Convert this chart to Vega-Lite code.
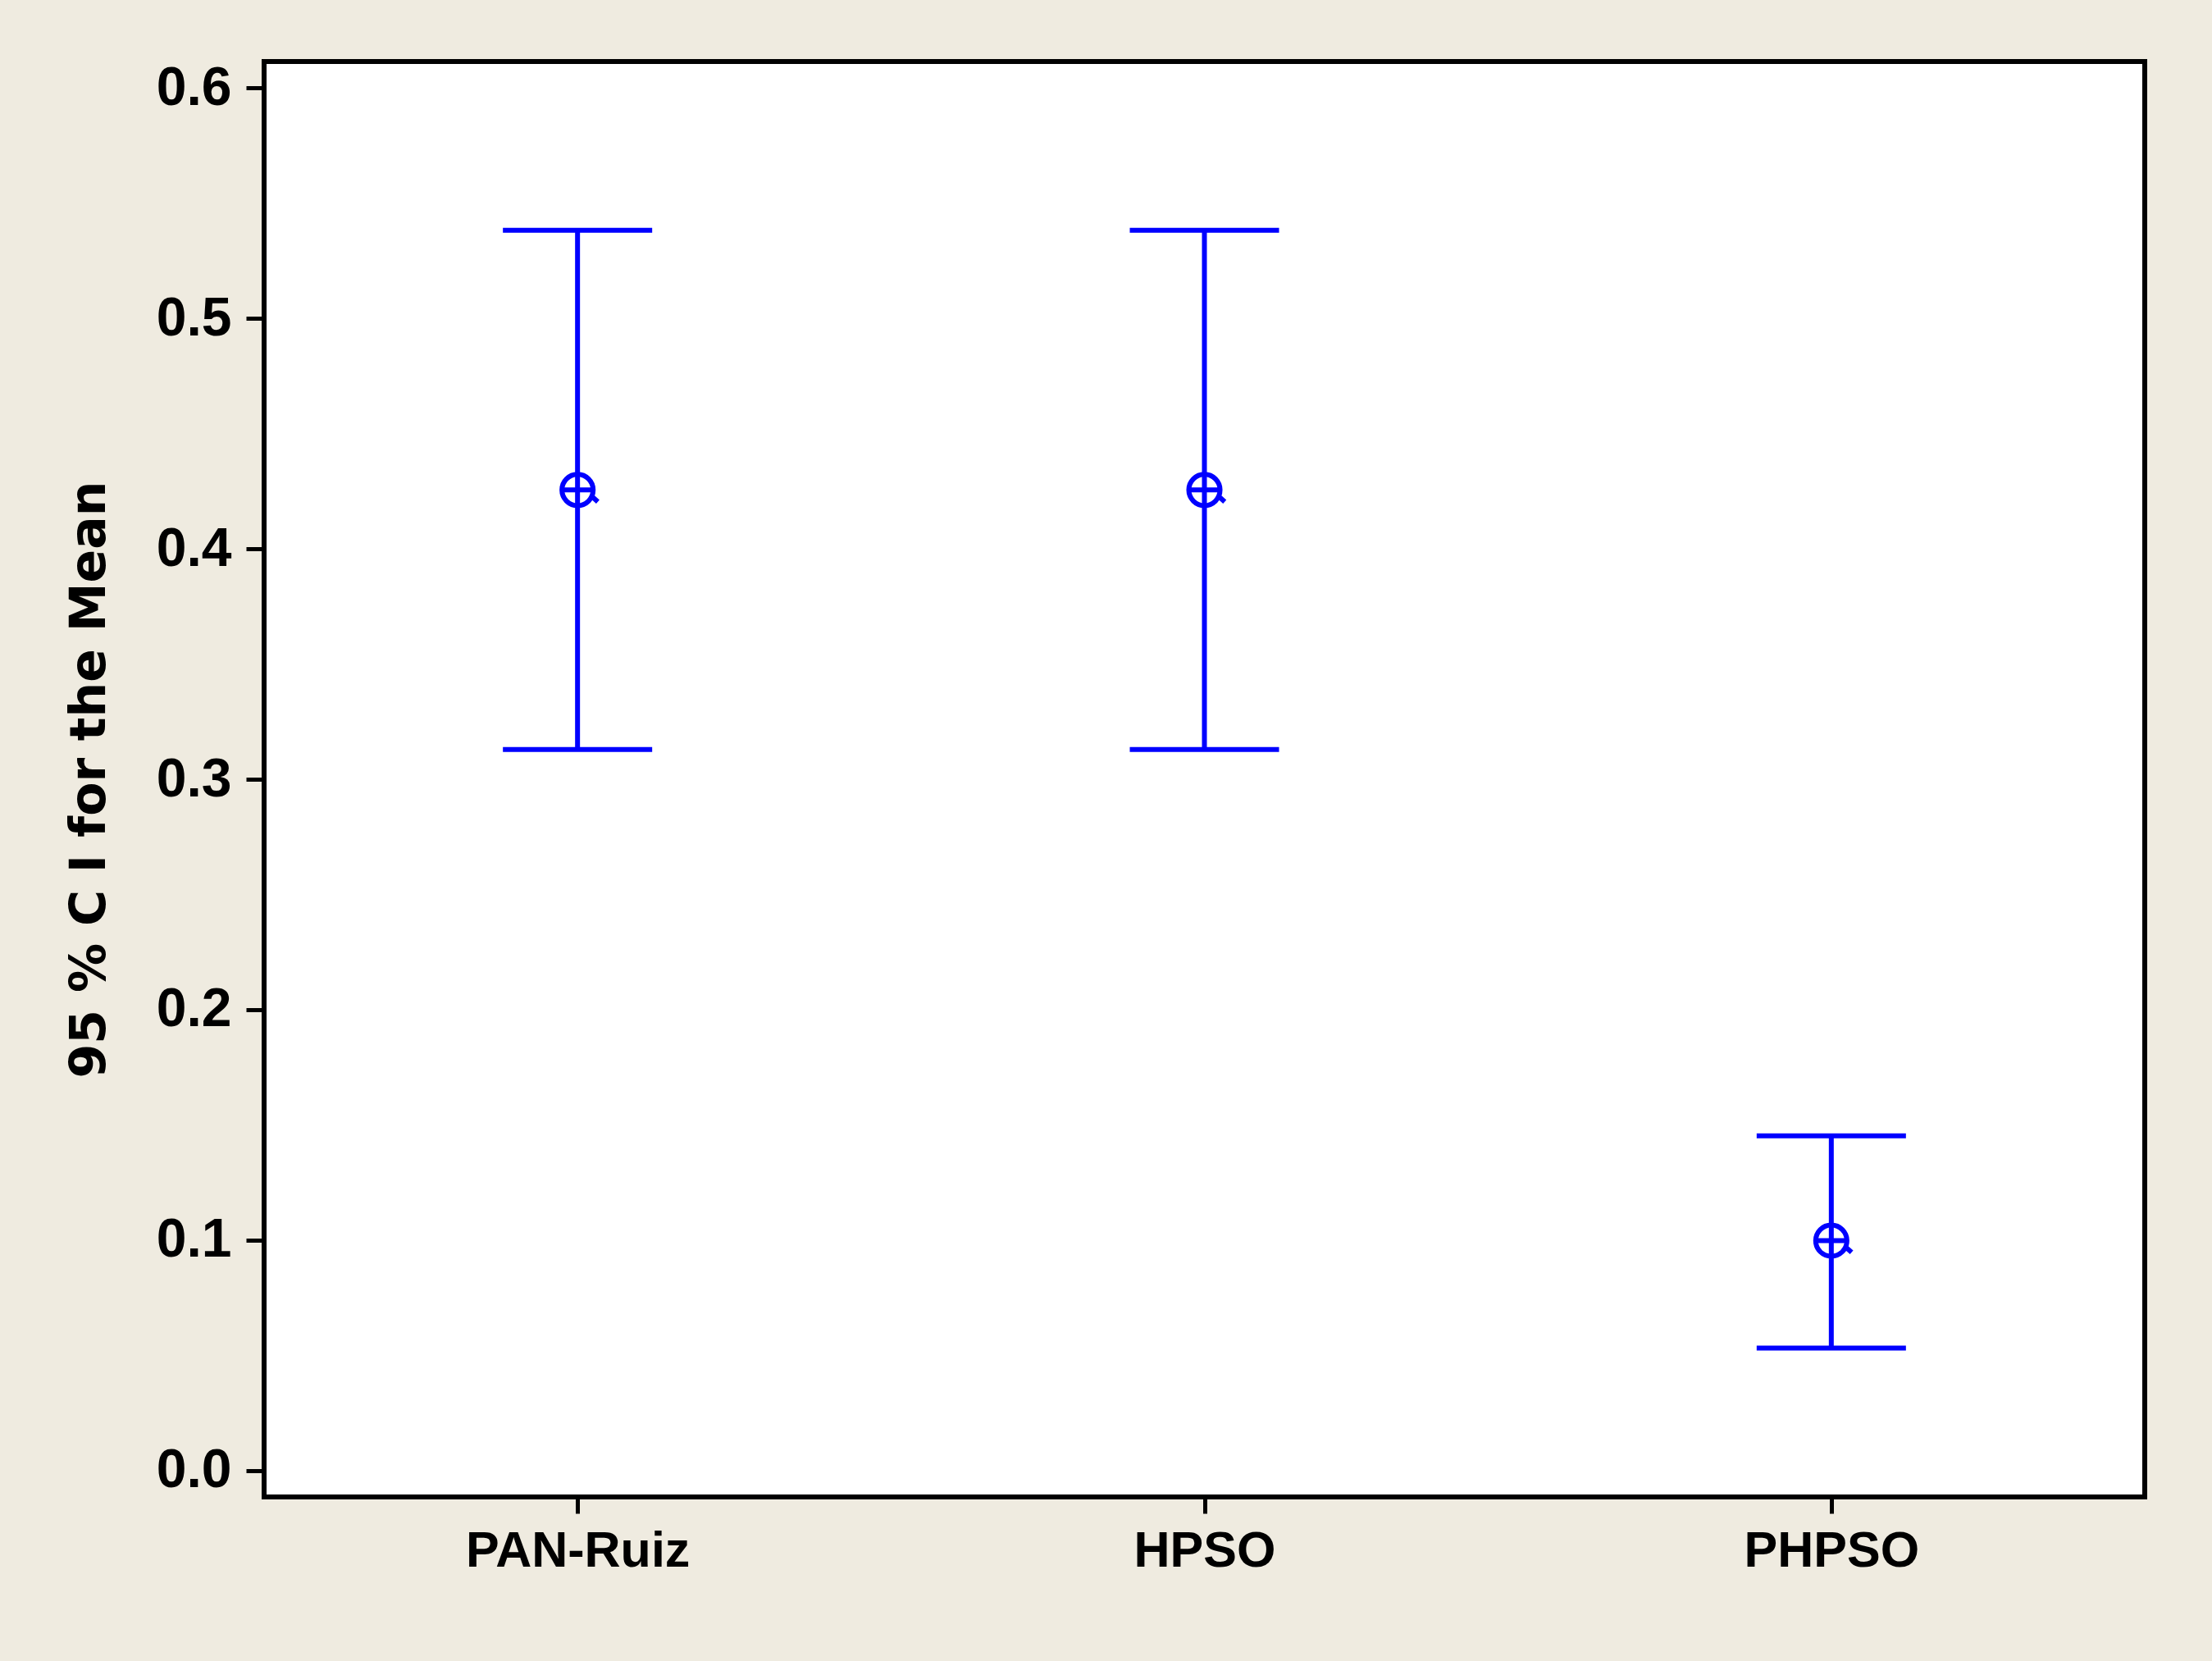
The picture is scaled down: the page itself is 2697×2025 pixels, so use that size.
{
  "$schema": "https://vega.github.io/schema/vega-lite/v6.json",
  "width": 2293,
  "height": 1750,
  "autosize": {"type": "none"},
  "padding": {"left": 322, "top": 75, "right": 82, "bottom": 200},
  "background": "#EFEBE0",
  "config": {
    "view": {"fill": "white", "stroke": "black", "strokeWidth": 6},
    "axis": {
      "domain": false,
      "grid": false,
      "tickColor": "black",
      "tickWidth": 5,
      "labelColor": "black",
      "labelFont": "Liberation Sans",
      "labelFontWeight": "bold",
      "labelFontSize": 66,
      "labelLimit": 0,
      "titleColor": "black",
      "titleFont": "DejaVu Sans",
      "titleFontWeight": "bold",
      "titleFontSize": 60
    }
  },
  "data": {
    "values": [
      {"method": "PAN-Ruiz", "mean": 0.4255, "lower": 0.3129, "upper": 0.5382},
      {"method": "HPSO", "mean": 0.4255, "lower": 0.3129, "upper": 0.5382},
      {"method": "PHPSO", "mean": 0.0998, "lower": 0.0532, "upper": 0.1453}
    ]
  },
  "encoding": {
    "x": {
      "field": "method",
      "type": "nominal",
      "sort": null,
      "scale": {"type": "point", "padding": 0.5},
      "axis": {"title": null, "labelAngle": 0, "tickSize": 20, "labelPadding": 16, "labelFontSize": 61}
    }
  },
  "layer": [
    {
      "mark": {"type": "rule", "color": "#0000FF", "strokeWidth": 6},
      "encoding": {
        "y": {
          "field": "lower",
          "type": "quantitative",
          "scale": {"domain": [-0.0114, 0.6114], "nice": false, "zero": false},
          "axis": {
            "title": "95 % C I for the Mean",
            "values": [0, 0.1, 0.2, 0.3, 0.4, 0.5, 0.6],
            "format": ".1f",
            "tickSize": 22,
            "labelPadding": 18,
            "titlePadding": 50
          }
        },
        "y2": {"field": "upper"}
      }
    },
    {
      "mark": {"type": "tick", "color": "#0000FF", "size": 182, "thickness": 6, "opacity": 1},
      "encoding": {"y": {"field": "lower", "type": "quantitative"}}
    },
    {
      "mark": {"type": "tick", "color": "#0000FF", "size": 182, "thickness": 6, "opacity": 1},
      "encoding": {"y": {"field": "upper", "type": "quantitative"}}
    },
    {
      "mark": {
        "type": "point",
        "shape": "M -1 0 A 1 1 0 1 0 1 0 A 1 1 0 1 0 -1 0 M -1 0 L 1 0 M 0.85 0.35 L 1.3 0.75",
        "filled": false,
        "stroke": "#0000FF",
        "strokeWidth": 6,
        "size": 1450,
        "opacity": 1
      },
      "encoding": {"y": {"field": "mean", "type": "quantitative"}}
    }
  ]
}
